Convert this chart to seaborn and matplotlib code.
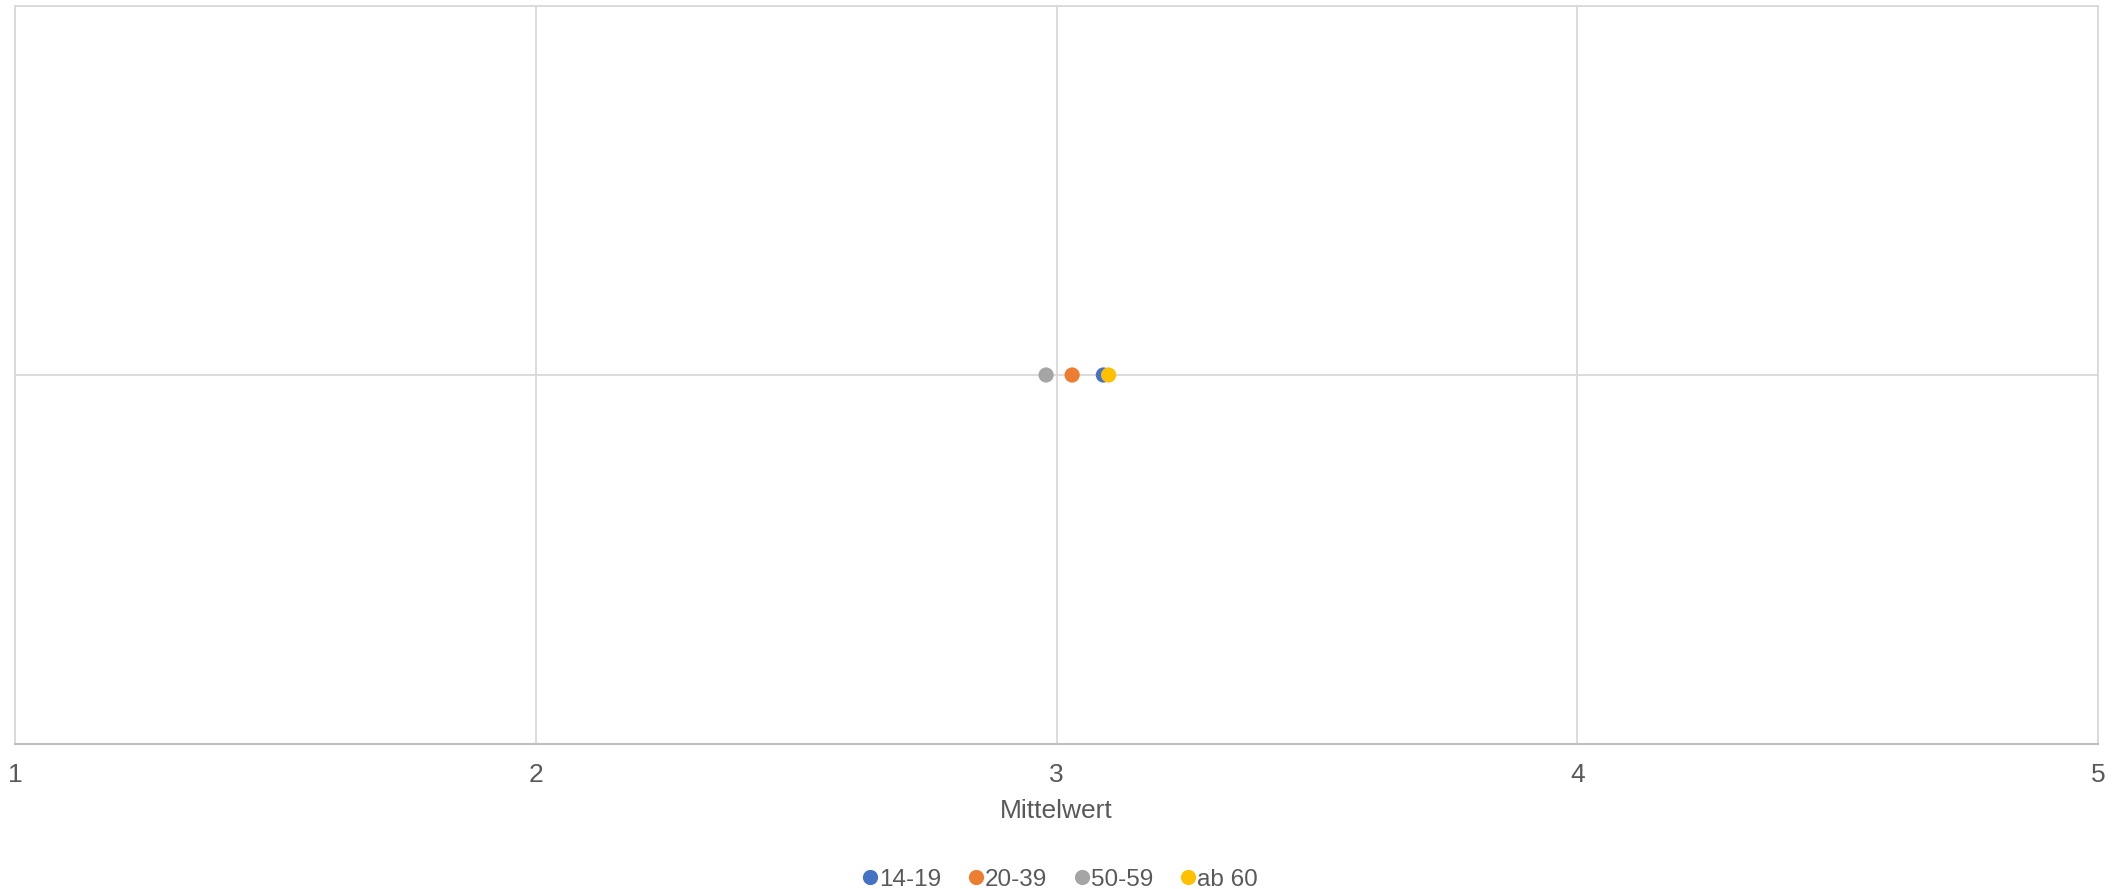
import numpy as np
import pandas as pd
import matplotlib
matplotlib.use("Agg")
import matplotlib.pyplot as plt
import seaborn as sns

# # # data # # #
groups = ["14-19", "20-39", "50-59", "ab 60"]
mittelwert = [3.09, 3.03, 2.98, 3.10]
y_pos = [1, 1, 1, 1]
colors = ["#4472C4", "#ED7D31", "#A5A5A5", "#FFC000"]
x_ticks = [1, 2, 3, 4, 5]

df = pd.DataFrame({"Gruppe": groups, "Mittelwert": mittelwert, "y": y_pos})

sns.set_style("white")
plt.rcParams["font.family"] = ["Liberation Sans", "DejaVu Sans"]

fig = plt.figure(figsize=(21.18, 8.89), dpi=100)
ax = fig.add_axes([15 / 2118, 1 - 744 / 889, (2098 - 15) / 2118, (744 - 6) / 889])

# gridlines
for xv in x_ticks:
    ax.axvline(xv, color="#d9d9d9", lw=1.3, zorder=0)
for yv in [0, 1, 2]:
    ax.axhline(yv, color="#d9d9d9", lw=1.3, zorder=0)

sns.scatterplot(data=df, x="Mittelwert", y="y", hue="Gruppe", hue_order=groups,
                palette=colors, s=120, edgecolor="none", ax=ax, zorder=3, legend=True)

ax.set_xlim(1, 5)
ax.set_ylim(0, 2)
ax.set_xticks(x_ticks)
ax.set_xticklabels([str(t) for t in x_ticks])
ax.set_yticks([])
ax.set_ylabel("")
ax.set_xlabel("Mittelwert", fontsize=19, color="#595959", labelpad=8)
ax.tick_params(axis="x", length=0, labelsize=19, labelcolor="#595959", pad=14)

for side in ["top", "right", "left"]:
    ax.spines[side].set_color("#d9d9d9")
    ax.spines[side].set_linewidth(1.3)
ax.spines["bottom"].set_color("#bfbfbf")
ax.spines["bottom"].set_linewidth(1.5)

handles, labels = ax.get_legend_handles_labels()
ax.legend(handles, labels, loc="center", bbox_to_anchor=(0.5, -0.184), ncol=4,
          frameon=False, fontsize=17.5, labelcolor="#595959", handletextpad=-0.25,
          columnspacing=0.85, markerscale=1.0, handlelength=1.2)

fig.savefig("out.png", dpi=100)
